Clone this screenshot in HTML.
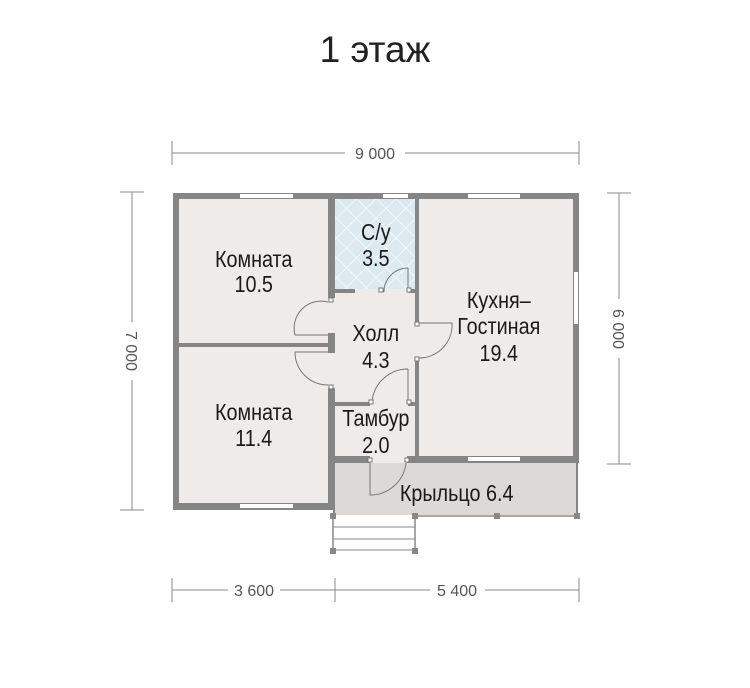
<!DOCTYPE html>
<html><head><meta charset="utf-8"><style>
html,body{margin:0;padding:0;background:#fff;}
svg{display:block;font-family:"Liberation Sans",sans-serif;}
</style></head><body>
<svg width="750" height="688" viewBox="0 0 750 688" xmlns="http://www.w3.org/2000/svg">
<defs>
<pattern id="tile" width="14" height="14" patternUnits="userSpaceOnUse" patternTransform="rotate(45)">
<rect width="14" height="14" fill="#dde9f1"/>
<path d="M0 0H14M0 0V14" stroke="#fff" stroke-width="1.2"/>
</pattern>
</defs>
<text x="375" y="62" font-size="37" text-anchor="middle" fill="#222">1 этаж</text>

<!-- dimension lines -->
<g stroke="#888" stroke-width="1" fill="none">
<line x1="172" y1="153" x2="345" y2="153"/><line x1="405" y1="153" x2="579" y2="153"/>
<line x1="172" y1="141" x2="172" y2="165"/><line x1="579" y1="141" x2="579" y2="165"/>
<line x1="132" y1="192" x2="132" y2="322"/><line x1="132" y1="380" x2="132" y2="510"/>
<line x1="120" y1="192" x2="144" y2="192"/><line x1="120" y1="510" x2="144" y2="510"/>
<line x1="619" y1="193" x2="619" y2="299"/><line x1="619" y1="358" x2="619" y2="464"/>
<line x1="607" y1="193" x2="631" y2="193"/><line x1="607" y1="464" x2="631" y2="464"/>
<line x1="172" y1="590" x2="228" y2="590"/><line x1="280" y1="590" x2="335" y2="590"/>
<line x1="335" y1="590" x2="430" y2="590"/><line x1="485" y1="590" x2="579" y2="590"/>
<line x1="172" y1="578" x2="172" y2="602"/><line x1="335" y1="578" x2="335" y2="602"/><line x1="579" y1="578" x2="579" y2="602"/>
</g>
<g font-size="16" fill="#555" text-anchor="middle">
<text x="375" y="159">9 000</text>
<text x="254" y="596">3 600</text>
<text x="457" y="596">5 400</text>
<text transform="translate(126,351) rotate(90)">7 000</text>
<text transform="translate(613,329) rotate(90)">6 000</text>
</g>

<!-- floors -->
<rect x="176" y="196" width="400" height="267" fill="#efebe8"/>
<rect x="176" y="463" width="159" height="44" fill="#efebe8"/>
<rect x="335" y="199" width="80" height="90" fill="url(#tile)"/>
<rect x="335" y="463" width="243" height="52" fill="#dcd9d6"/>

<!-- walls -->
<g fill="#858585">
<rect x="173" y="193" width="406" height="6"/>
<rect x="173" y="193" width="6" height="317"/>
<rect x="173" y="503" width="162" height="7"/>
<rect x="573" y="193" width="6" height="270"/>
<rect x="328" y="193" width="7" height="105"/>
<rect x="328" y="333" width="7" height="20"/>
<rect x="328" y="388" width="7" height="122"/>
<rect x="179" y="343" width="149" height="4"/>
<rect x="335" y="289" width="20" height="4"/>
<rect x="409" y="289" width="6" height="4"/>
<rect x="415" y="193" width="4" height="130"/>
<rect x="415" y="360" width="4" height="103"/>
<rect x="335" y="402" width="35" height="4"/>
<rect x="408" y="402" width="7" height="4"/>
<rect x="335" y="456" width="35" height="7"/>
<rect x="407" y="456" width="172" height="7"/>
<rect x="333" y="463" width="2" height="52"/>
<rect x="576" y="463" width="2" height="52"/>
</g>
<!-- windows -->
<g fill="#fff">
<rect x="240" y="194" width="53" height="4"/>
<rect x="383" y="194" width="25" height="4"/>
<rect x="468" y="194" width="52" height="4"/>
<rect x="574" y="272" width="4" height="52"/>
<rect x="240" y="504" width="53" height="4"/>
<rect x="468" y="457" width="52" height="4"/>
</g>
<!-- porch rail & steps -->
<g stroke="#888" stroke-width="1.5" fill="none">
<line x1="415" y1="516" x2="577" y2="516"/>
<line x1="333" y1="516" x2="333" y2="551"/><line x1="415" y1="516" x2="415" y2="551"/>
<line x1="333" y1="527" x2="415" y2="527" stroke-width="1"/>
<line x1="333" y1="539" x2="415" y2="539" stroke-width="1"/>
<line x1="333" y1="550" x2="415" y2="550" stroke-width="1"/>
</g>
<g fill="#888">
<rect x="330" y="513" width="6" height="6"/><rect x="412" y="513" width="6" height="6"/>
<rect x="494" y="513" width="6" height="6"/><rect x="574" y="513" width="6" height="6"/>
<rect x="330" y="548" width="6" height="6"/><rect x="412" y="548" width="6" height="6"/>
</g>
<!-- doors -->
<g stroke="#777" stroke-width="1" fill="none">
<path d="M408 268 V292 M408 268 A24 24 0 0 0 384 292"/>
<path d="M328 302 A27 27 0 0 0 295 335 H328"/>
<path d="M328 352 H295 A33 33 0 0 0 328 385"/>
<path d="M419 323 H452 A33 33 0 0 1 419 358"/>
<path d="M408 369 V402 M408 369 A36 36 0 0 0 372 402"/>
<path d="M370 463 V495 A36 36 0 0 0 406 463"/>
</g>
<g fill="#fff" stroke="#777" stroke-width="1">
<rect x="379" y="288" width="4" height="4"/><rect x="407" y="288" width="4" height="4"/>
<rect x="329" y="298" width="4" height="4"/><rect x="329" y="385" width="4" height="4"/>
<rect x="415" y="322" width="4" height="4"/><rect x="415" y="357" width="4" height="4"/>
<rect x="369" y="400" width="4" height="4"/><rect x="407" y="400" width="4" height="4"/>
<rect x="368" y="458" width="4" height="4"/><rect x="405" y="458" width="4" height="4"/>
</g>

<!-- labels -->
<g font-size="23" fill="#1a1a1a" text-anchor="middle" transform="scale(0.86,1)">
<text x="295" y="267">Комната</text>
<text x="295" y="292">10.5</text>
<text x="295" y="420">Комната</text>
<text x="295" y="446">11.4</text>
<text x="437" y="240">С/у</text>
<text x="437" y="266">3.5</text>
<text x="437" y="341">Холл</text>
<text x="437" y="368">4.3</text>
<text x="437" y="426">Тамбур</text>
<text x="437" y="453">2.0</text>
<text x="580" y="308">Кухня–</text>
<text x="580" y="334">Гостиная</text>
<text x="580" y="361">19.4</text>
<text x="531" y="501">Крыльцо 6.4</text>
</g>
</svg>
</body></html>
